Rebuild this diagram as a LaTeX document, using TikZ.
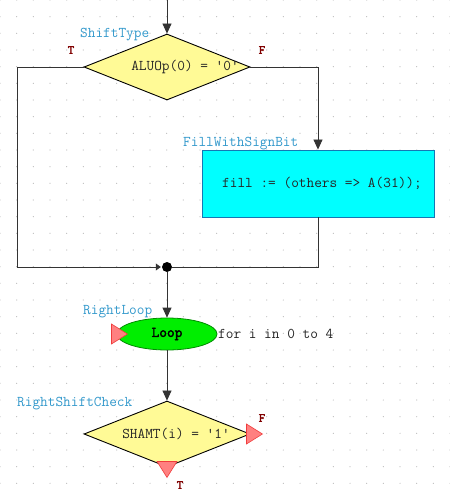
\documentclass[tikz,border=0pt]{standalone}
\usepackage{fontspec}
\newfontfamily\boldtt[FakeBold=2.5]{Latin Modern Mono}
\usetikzlibrary{shapes.geometric,arrows.meta}
\definecolor{dyellow}{RGB}{255,250,150}
\definecolor{lblue}{RGB}{51,153,204}
\definecolor{tfred}{RGB}{128,0,0}
\definecolor{boxcyan}{RGB}{0,255,255}
\definecolor{boxborder}{RGB}{20,120,180}
\definecolor{loopgreen}{RGB}{0,238,0}
\definecolor{loopborder}{RGB}{0,140,0}
\definecolor{trifill}{RGB}{255,128,128}
\definecolor{triborder}{RGB}{240,60,60}
\definecolor{griddot}{RGB}{190,190,190}
\tikzset{
  decision/.style={diamond, draw=black, fill=dyellow, line width=0.9pt, minimum width=166pt, minimum height=66pt, inner sep=0pt},
  codetext/.style={font=\ttfamily\fontsize{14.9}{16}\selectfont, text=black!85, inner sep=0pt},
  namelabel/.style={font=\ttfamily\fontsize{14.9}{16}\selectfont, text=lblue, inner sep=0pt},
  tflabel/.style={font=\boldtt\fontsize{12.5}{14}\selectfont, text=tfred, inner sep=0pt},
  actionbox/.style={draw=boxborder, fill=boxcyan, line width=0.9pt, minimum width=232pt, minimum height=67pt, inner sep=0pt},
  loopnode/.style={ellipse, draw=loopborder, fill=loopgreen, line width=0.8pt, minimum width=100pt, minimum height=32pt, inner sep=0pt, font=\boldtt\fontsize{14.9}{16}\selectfont},
  flow/.style={draw=black!80, line width=0.8pt},
  arr/.style={flow, -{Triangle[width=9pt,length=10pt]}},
  redtri/.style={isosceles triangle, isosceles triangle apex angle=64, draw=triborder, fill=trifill, minimum height=16pt, inner sep=0pt, line width=0.6pt},
}
\begin{document}
\begin{tikzpicture}[x=1pt,y=-1pt]
\useasboundingbox (0,0) rectangle (450,496);
\fill[white] (0,0) rectangle (450,496);
% grid dots
\foreach \i in {0,...,27} {
  \foreach \j in {0,...,30} {
    \fill[griddot] (\i*16.667,\j*16.667) circle (0.6pt);
  }
}
% ShiftType decision
\node[decision] (d1) at (167,67) {};
\node[codetext] (d1t) at (185,67) {ALUOp(0) = '0'};
\node[namelabel, anchor=base west] (d1n) at (80,37) {ShiftType};
\node[tflabel] (d1T) at (71,50) {T};
\node[tflabel] (d1F) at (262,50) {F};
% top entry
\coordinate (top) at (167,0);
\draw[arr] (top) -- (d1.north);
% action box
\node[actionbox] (box) at (318,183.5) {};
\node[codetext, anchor=west] (boxt) at (222,183.5) {fill := (others => A(31));};
\node[namelabel, anchor=base west] (boxn) at (183,146) {FillWithSignBit};
% junction
\node[circle, fill=black, minimum size=10pt, inner sep=0pt] (j) at (167,267) {};
\coordinate (lc) at (17,67);
\coordinate (lb) at (17,267);
\coordinate (rc) at (318,67);
\coordinate (rb) at (318,267);
\draw[flow] (d1.west) -- (lc) -- (lb);
\draw[flow, -{Triangle[width=7pt,length=5pt]}] (lb) -- ([xshift=-1pt]j.west);
\draw[arr] (d1.east) -- (rc) -- (box.north);
\draw[flow] (box.south) -- (rb) -- (j.east);
% loop
\node[loopnode] (loop) at (167,334) {Loop};
\node[namelabel, anchor=base west] (loopn) at (83,314) {RightLoop};
\node[codetext, anchor=west] (loopt) at (218,334) {for i in 0 to 4};
\node[redtri, shape border rotate=0] (lt) at (117,334) {};
\draw[arr] (j.south) -- (loop.north);
% RightShiftCheck decision
\node[decision] (d2) at (167,434) {};
\node[codetext] (d2t) at (176,434) {SHAMT(i) = '1'};
\node[namelabel, anchor=base west] (d2n) at (17,406) {RightShiftCheck};
\draw[arr] (loop.south) -- (d2.north);
\node[redtri, shape border rotate=0] (rt) at (252,434) {};
\node[redtri, shape border rotate=-90] (bt) at (167,467) {};
\node[tflabel] (d2F) at (262,418) {F};
\node[tflabel] (d2T) at (180,485) {T};
\end{tikzpicture}
\end{document}
